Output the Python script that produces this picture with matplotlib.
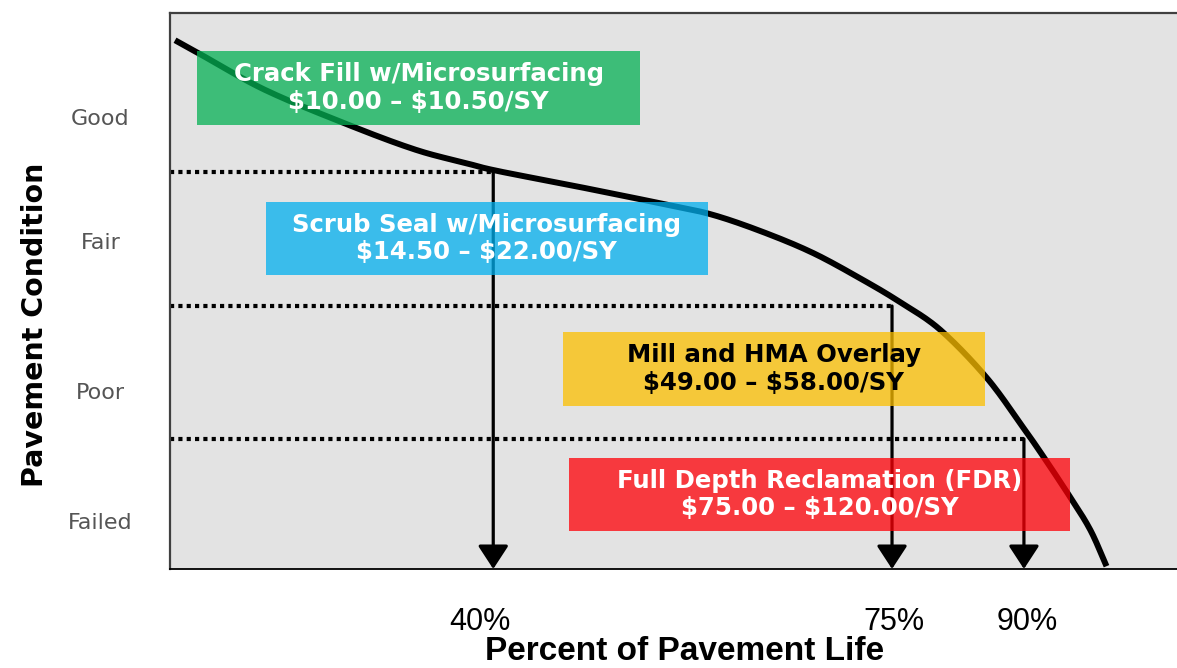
import matplotlib
matplotlib.use("Agg")
import numpy as np
import matplotlib.pyplot as plt
from matplotlib.patches import Rectangle, FancyArrowPatch

# ---- data (nominal chart units: x = position along life axis 0-100, y = condition 0-100)
curve_x = [0.5, 2.8, 9.4, 17.7, 24.4, 29.4, 32.5, 40.7, 49.4, 53.9, 58.9, 63.9,
           68.8, 72.5, 76.5, 81.1, 84.7, 86.7, 89.4, 91.4, 93.0]
curve_y = [95.1, 92.8, 86.2, 79.9, 75.4, 73.0, 71.6, 68.7, 65.5, 63.7, 60.6, 56.8,
           52.0, 48.0, 43.0, 34.4, 25.5, 20.3, 12.9, 7.0, 0.5]

condition_labels = ["Good", "Fair", "Poor", "Failed"]
condition_pos = [81.3, 59.0, 32.0, 8.6]

threshold_x = [32.1, 71.7, 84.8]          # life position where treatment changes
threshold_y = [71.4, 47.3, 23.4]          # condition level of each threshold
life_labels = ["40%", "75%", "90%"]
life_label_pos = [30.8, 71.9, 85.1]

treatments = ["Crack Fill w/Microsurfacing", "Scrub Seal w/Microsurfacing",
              "Mill and HMA Overlay", "Full Depth Reclamation (FDR)"]
costs = ["$10.00 – $10.50/SY", "$14.50 – $22.00/SY",
         "$49.00 – $58.00/SY", "$75.00 – $120.00/SY"]

# ---- layout / style
box_extent = [(2.7, 46.7, 79.9, 93.2), (9.5, 53.4, 52.9, 66.0),
              (39.0, 80.9, 29.3, 42.6), (39.6, 89.4, 6.8, 20.0)]
box_colors = ["#05b154", "#02b0ef", "#fcbf00", "#ff0007"]
text_colors = ["white", "white", "black", "white"]


def catmull_rom(xs, ys, n=20):
    """Smooth drawing path passing through the given points."""
    p = np.column_stack([xs, ys]).astype(float)
    p = np.vstack([2 * p[0] - p[1], p, 2 * p[-1] - p[-2]])
    out = []
    t = np.linspace(0, 1, n, endpoint=False)[:, None]
    for i in range(1, len(p) - 2):
        p0, p1, p2, p3 = p[i - 1], p[i], p[i + 1], p[i + 2]
        seg = 0.5 * ((2 * p1) + (-p0 + p2) * t + (2 * p0 - 5 * p1 + 4 * p2 - p3) * t ** 2
                     + (-p0 + 3 * p1 - 3 * p2 + p3) * t ** 3)
        out.append(seg)
    out.append(p[-2][None, :])
    out = np.vstack(out)
    return out[:, 0], out[:, 1]


W, H = 1177, 668
fig = plt.figure(figsize=(W / 100, H / 100), dpi=100)
ax = fig.add_axes([170 / W, 99 / H, 1007 / W, 556 / H])
ax.set_xlim(0, 100)
ax.set_ylim(0, 100)
ax.set_facecolor("#e3e3e3")

for s in ["left", "top"]:
    ax.spines[s].set_color("#404040")
    ax.spines[s].set_linewidth(1.6)
ax.spines["bottom"].set_color("black")
ax.spines["bottom"].set_linewidth(1.3)
ax.spines["right"].set_visible(False)

# curve
sx, sy = catmull_rom(curve_x, curve_y)
ax.plot(sx, sy, color="black", lw=4.3, solid_capstyle="butt",
        solid_joinstyle="round", zorder=2)

# dotted threshold lines and arrows
for tx, ty in zip(threshold_x, threshold_y):
    ax.plot([0, tx], [ty, ty], color="black", lw=3.0, linestyle=(0, (1, 1)),
            dash_capstyle="butt", zorder=2)
    arr = FancyArrowPatch((tx, ty), (tx, 0), arrowstyle="-|>,head_length=0.72,head_width=0.47",
                          mutation_scale=20, color="black", lw=2.3,
                          shrinkA=0, shrinkB=0, zorder=2)
    ax.add_patch(arr)

# treatment boxes
for (x0, x1, y0, y1), c, tc, t, cost in zip(box_extent, box_colors, text_colors, treatments, costs):
    ax.add_patch(Rectangle((x0, y0), x1 - x0, y1 - y0, facecolor=c, edgecolor="none",
                           alpha=0.75, zorder=3))
    ax.text((x0 + x1) / 2, (y0 + y1) / 2, t + "\n" + cost, ha="center", va="center",
            color=tc, fontsize=17.6, fontweight="bold", family="DejaVu Sans",
            linespacing=1.2, zorder=4, parse_math=False)

# ticks
ax.set_yticks(condition_pos)
ax.set_yticklabels(condition_labels, fontsize=16, color="#555555", family="DejaVu Sans")
ax.tick_params(axis="y", length=0, pad=50)
for lab in ax.get_yticklabels():
    lab.set_horizontalalignment("center")

ax.set_xticks(life_label_pos)
ax.set_xticklabels(life_labels, fontsize=22, color="black", family="Liberation Sans")
ax.tick_params(axis="x", length=0, pad=27)

fig.text(35 / W, 1 - 325 / H, "Pavement Condition", rotation=90, ha="center", va="center",
         fontsize=20.5, fontweight="bold", family="DejaVu Sans")
fig.text(685 / W, 1 - 651 / H, "Percent of Pavement Life", ha="center", va="center",
         fontsize=24, fontweight="bold", family="Liberation Sans")

fig.savefig("out.png", dpi=100)
